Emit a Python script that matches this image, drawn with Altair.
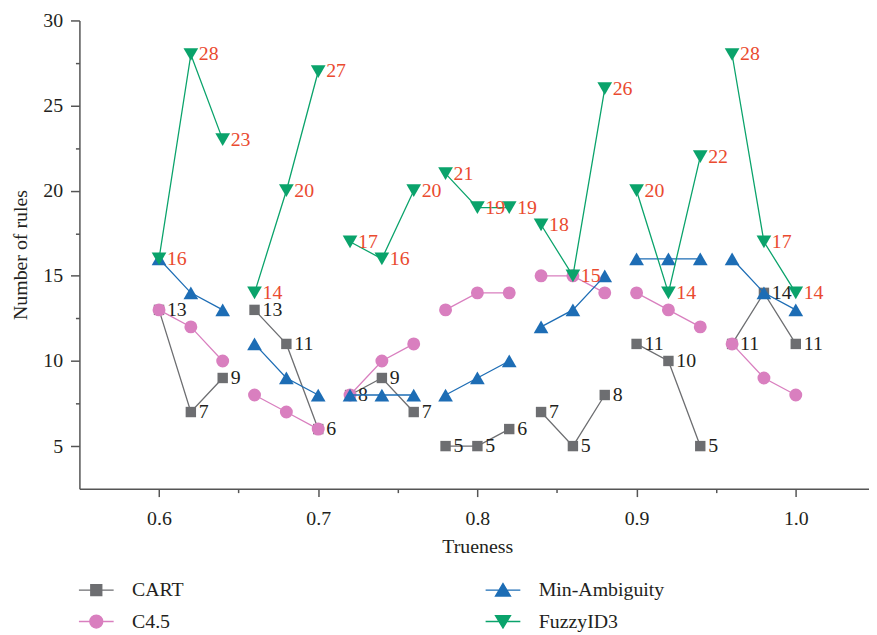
import altair as alt
import pandas as pd

# ---- data ----
trueness = [0.60, 0.62, 0.64, 0.66, 0.68, 0.70, 0.72, 0.74, 0.76, 0.78, 0.80,
            0.82, 0.84, 0.86, 0.88, 0.90, 0.92, 0.94, 0.96, 0.98, 1.00]
segment = [0, 0, 0, 1, 1, 1, 2, 2, 2, 3, 3, 3, 4, 4, 4, 5, 5, 5, 6, 6, 6]
cart = [13, 7, 9, 13, 11, 6, 8, 9, 7, 5, 5, 6, 7, 5, 8, 11, 10, 5, 11, 14, 11]
c45 = [13, 12, 10, 8, 7, 6, 8, 10, 11, 13, 14, 14, 15, 15, 14, 14, 13, 12, 11, 9, 8]
min_amb = [16, 14, 13, 11, 9, 8, 8, 8, 8, 8, 9, 10, 12, 13, 15, 16, 16, 16, 16, 14, 13]
fuzzy = [16, 28, 23, 14, 20, 27, 17, 16, 20, 21, 19, 19, 18, 15, 26, 20, 14, 22, 28, 17, 14]

series_names = ["CART", "C4.5", "Min-Ambiguity", "FuzzyID3"]
series_values = [cart, c45, min_amb, fuzzy]
series_colors = ["#6d6e71", "#d97fbf", "#1d6db5", "#0aa36b"]
series_shapes = ["square", "circle", "triangle-up", "triangle-down"]
series_sizes = [110, 170, 220, 220]
label_colors = {"CART": "#231f20", "FuzzyID3": "#ea4a2f"}

x_ticks = [0.6, 0.65, 0.7, 0.75, 0.8, 0.85, 0.9, 0.95, 1.0]
y_ticks = [5, 7.5, 10, 12.5, 15, 17.5, 20, 22.5, 25, 27.5, 30]

# legend symbols: line segment + marker (custom paths)
legend_order = ["CART", "C4.5", "Min-Ambiguity", "FuzzyID3"]
legend_colors = ["#6d6e71", "#d97fbf", "#1d6db5", "#0aa36b"]
legend_paths = [
    "M-1.4,0H1.4M-0.44,-0.44H0.44V0.44H-0.44Z",
    "M-1.4,0H1.4M-0.52,0A0.52,0.52,0,1,0,0.52,0A0.52,0.52,0,1,0,-0.52,0Z",
    "M-1.4,0H1.4M-0.6,0.48L0,-0.52L0.6,0.48Z",
    "M-1.4,0H1.4M-0.6,-0.48L0,0.52L0.6,-0.48Z",
]

rows = []
for name, vals in zip(series_names, series_values):
    for xv, yv, g in zip(trueness, vals, segment):
        rows.append({"series": name, "x": xv, "y": yv, "seg": g})
df = pd.DataFrame(rows)
legend_df = pd.DataFrame({"series": legend_order, "x": [None] * 4, "y": [None] * 4})

FONT = "Liberation Serif"
FS = 20
AX = "#555555"

x_enc = alt.X(
    "x:Q",
    scale=alt.Scale(domain=[0.55, 1.046], nice=False, zero=False),
    axis=alt.Axis(
        values=x_ticks, format=".1f",
        labelExpr="abs(datum.value*10 - round(datum.value*10)) < 0.01 ? datum.label : ''",
        tickSize={"condition": {"test": "abs(datum.value*10 - round(datum.value*10)) < 0.01", "value": 8}, "value": 4},
        title="Trueness", grid=False, labelPadding=12, titleX=401, titleY=58,
        titleBaseline="middle", titleAnchor="start", titleAlign="center",
    ),
)
y_enc = alt.Y(
    "y:Q",
    scale=alt.Scale(domain=[2.5, 30], nice=False, zero=False),
    axis=alt.Axis(
        values=y_ticks,
        labelExpr="datum.value % 5 == 0 ? datum.label : ''",
        tickSize={"condition": {"test": "datum.value % 5 == 0", "value": 9}, "value": 4},
        title="Number of rules", grid=False, labelPadding=8, titlePadding=12,
    ),
)

layers = []
for name, col, shp, sz in zip(series_names, series_colors, series_shapes, series_sizes):
    base = alt.Chart(df).transform_filter(alt.datum.series == name)
    layers.append(
        base.mark_line(color=col, strokeWidth=1.3).encode(
            x=x_enc, y=y_enc, detail="seg:N", order="x:Q"
        )
    )
    layers.append(
        base.mark_point(filled=True, shape=shp, size=sz, color=col, opacity=1).encode(
            x=x_enc, y=y_enc
        )
    )
    if name in label_colors:
        layers.append(
            base.mark_text(align="left", baseline="middle", dx=8, font=FONT,
                           fontSize=FS, color=label_colors[name]).encode(
                x=x_enc, y=y_enc, text="y:Q"
            )
        )

leg = alt.Legend(
    title=None, orient="none", legendX=3.5, legendY=560.5, columns=2,
    columnPadding=226, rowPadding=8, gridAlign="all", padding=0,
    symbolSize=625, symbolStrokeWidth=1.4, symbolOpacity=1,
    labelFont=FONT, labelFontSize=FS, labelColor="#231f20", labelOffset=22.5,
)
legend_layer = alt.Chart(legend_df).mark_point(filled=True, opacity=1).encode(
    x=x_enc, y=y_enc,
    fill=alt.Fill("series:N", scale=alt.Scale(domain=legend_order, range=legend_colors), legend=leg),
    stroke=alt.Stroke("series:N", scale=alt.Scale(domain=legend_order, range=legend_colors), legend=leg),
    shape=alt.Shape("series:N", scale=alt.Scale(domain=legend_order, range=legend_paths), legend=leg),
)
layers.append(legend_layer)

chart = alt.layer(*layers).properties(
    width=796, height=472,
    padding={"left": 72, "top": 10, "right": 0, "bottom": 146},
    autosize=alt.AutoSizeParams(type="none"),
).configure_view(stroke=None).configure_axis(
    labelFont=FONT, titleFont=FONT, labelFontSize=FS, titleFontSize=FS,
    labelColor="#231f20", titleColor="#231f20", titleFontWeight="normal",
    domainColor=AX, domainWidth=1.5, tickColor=AX, tickWidth=1.5,
)

chart.save("out.html", embed_options={"renderer": "svg", "actions": False})
